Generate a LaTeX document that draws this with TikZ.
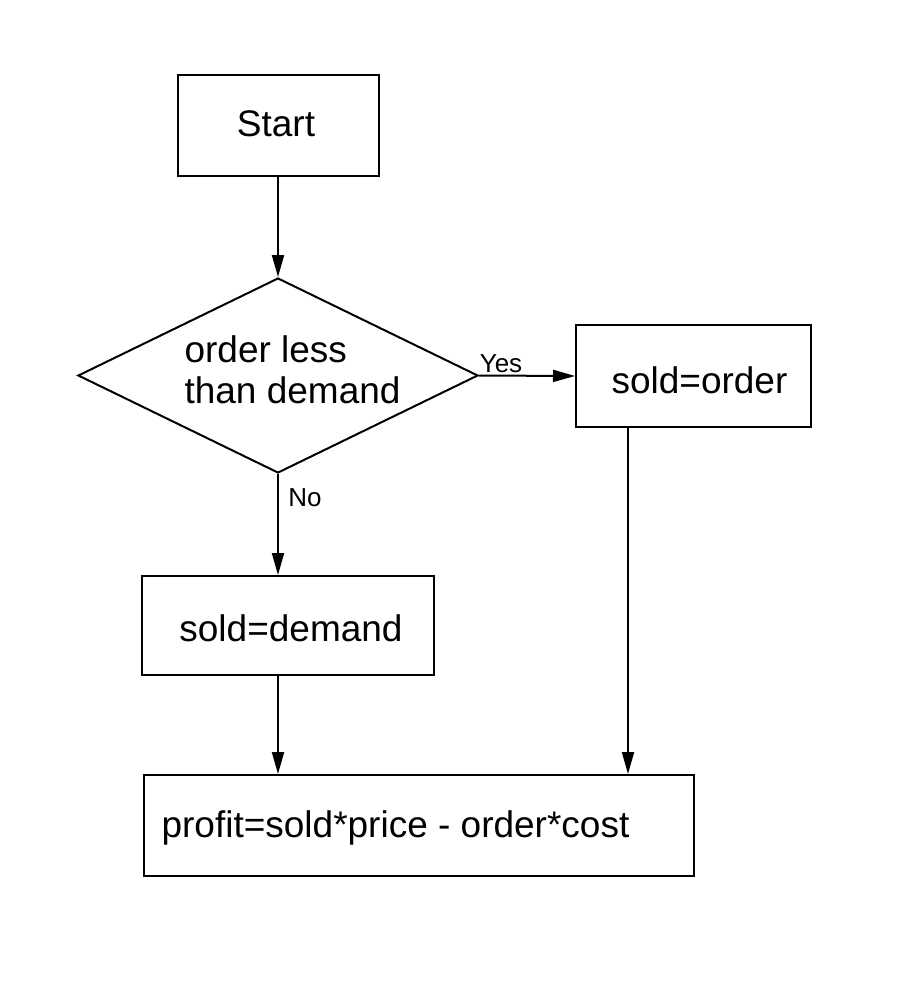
\documentclass[tikz,border=0pt]{standalone}
\usepackage{fontspec}
\setmainfont{Liberation Sans}
\usetikzlibrary{shapes.geometric,arrows.meta}
\begin{document}
\begin{tikzpicture}[x=1pt,y=-1pt,
  box/.style={draw,line width=2pt,rectangle,inner sep=0pt},
  dia/.style={draw,line width=2pt,diamond,inner sep=0pt,minimum width=400pt,minimum height=195pt},
  big/.style={font=\fontsize{37}{41}\selectfont},
  small/.style={font=\fontsize{26}{30}\selectfont},
  arr/.style={line width=2pt,-{Triangle[length=22pt,width=12pt]}}]
\useasboundingbox (0,0) rectangle (916,985);
\node[box,minimum width=201pt,minimum height=101pt] (start) at (278.5,125.5) {};
\node[big] (starttxt) at (276,124) {Start};
\node[dia] (dec) at (278,375.5) {};
\node[big,align=left,anchor=west] (dectxt) at (181,370) {order less\\than demand};
\node[box,minimum width=235pt,minimum height=102pt] (so) at (693.5,376) {};
\node[big,anchor=west] (sotxt) at (608,380) {sold=order};
\node[box,minimum width=292pt,minimum height=99pt] (sd) at (288,625.5) {};
\node[big] (sdtxt) at (291,628) {sold=demand};
\node[box,minimum width=550pt,minimum height=101pt] (pr) at (419,825.5) {};
\node[big,anchor=west] (prtxt) at (158,828) {profit=sold*price - order*cost};
\draw[arr] (dec.north |- start.south) -- (dec.north);
\draw[arr] (dec.east) -- node[small,above,xshift=-26pt,yshift=-1pt] (yes) {Yes} (so.west);
\draw[arr] (dec.south) -- node[small,right,pos=0.25,xshift=6pt,yshift=2pt] (no) {No} (dec.south |- sd.north);
\draw[arr] (dec.south |- sd.south) -- (dec.south |- pr.north);
\coordinate (soout) at (628,427);
\draw[arr] (soout) -- (soout |- pr.north);
\end{tikzpicture}
\end{document}
